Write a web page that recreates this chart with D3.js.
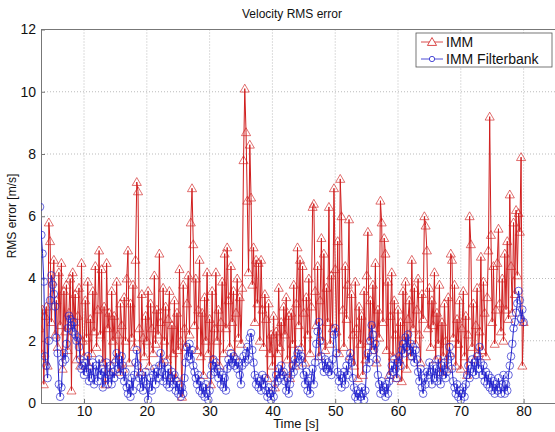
<!DOCTYPE html>
<html>
<head>
<meta charset="utf-8">
<script src="https://cdn.jsdelivr.net/npm/d3@7"></script>
<style>
  html, body { margin: 0; padding: 0; background: #fff; }
  svg text { font-family: "Liberation Sans", Arial, sans-serif; fill: #111; }
</style>
</head>
<body>
<svg id="chart" width="555" height="432"></svg>
<script>
// sample times start at 3 s, one sample every 0.2 s
const t0 = 3.0;
const dt = 0.2;

// IMM velocity RMS error [m/s], 5 samples per second from 3 s to 80 s
const imm = [
  2.4, 1.6, 3.0, 0.6, 2.8,  3.1, 1.2, 5.8, 5.2, 2.6,  3.9, 4.6, 2.2, 3.3, 1.8,
  4.2, 2.5, 4.5, 1.1, 3.6,  2.3, 3.8, 1.7, 2.9, 4.0,  0.4, 4.2, 2.6, 3.5, 1.4,
  2.8, 3.7, 1.2, 4.5, 2.0,  1.5, 3.3, 2.1, 3.9, 1.2,  2.7, 1.6, 3.6, 2.3, 4.4,
  1.8, 3.0, 4.9, 2.2, 4.3,  1.3, 3.1, 0.6, 4.5, 2.4,  2.9, 1.0, 3.6, 2.0, 2.8,
  1.4, 3.9, 2.2, 1.0, 3.2,  2.5, 1.1, 3.4, 2.0, 4.0,  4.9, 1.3, 3.2, 2.1, 3.8,
  1.8, 4.6, 7.1, 6.8, 2.4,  1.0, 3.5, 2.1, 1.5, 2.8,  2.0, 3.6, 1.2, 3.2, 2.4,
  1.6, 4.1, 1.9, 3.0, 2.2,  4.8, 2.6, 1.3, 3.7, 2.0,  3.1, 1.4, 2.7, 3.6, 0.9,
  2.5, 1.6, 3.3, 0.8, 2.9,  1.7, 4.3, 2.0, 0.2, 3.8,  2.4, 1.8, 3.2, 4.1, 2.2,
  5.8, 6.9, 5.1, 2.5, 4.0,  1.7, 3.0, 4.6, 1.5, 2.9,  0.9, 3.4, 2.0, 4.2, 1.6,
  2.7, 0.6, 3.6, 1.4, 2.4,  4.2, 2.0, 3.0, 1.2, 2.6,  3.9, 1.6, 4.8, 2.4, 5.0,
  3.3, 1.8, 4.4, 2.6, 3.6,  1.5, 2.9, 4.0, 2.1, 3.4,  1.9, 3.7, 7.8, 10.1, 8.7,
  6.5, 4.2, 8.3, 6.6, 3.8,  5.0, 2.6, 4.6, 3.2, 4.5,  2.0, 4.6, 3.0, 1.8, 3.5,
  2.7, 0.8, 3.2, 1.6, 2.2,  1.2, 2.8, 0.5, 2.3, 1.6,  3.7, 1.8, 2.6, 1.0, 3.1,
  2.2, 3.4, 1.4, 2.8, 0.8,  2.9, 1.9, 3.8, 1.2, 3.2,  5.0, 2.5, 4.6, 1.8, 4.4,
  2.9, 1.3, 3.4, 2.2, 4.0,  1.6, 3.1, 6.3, 6.4, 3.6,  2.5, 4.4, 1.5, 3.3, 5.3,
  2.0, 4.8, 1.7, 3.7, 2.6,  6.3, 1.9, 4.1, 2.4, 6.9,  4.3, 2.3, 5.2, 1.6, 7.2,
  6.0, 3.0, 1.8, 4.4, 2.7,  3.8, 5.9, 1.5, 3.5, 2.2,  1.2, 3.9, 2.4, 0.8, 3.1,
  1.9, 2.8, 0.9, 3.6, 1.4,  4.1, 5.5, 2.0, 3.3, 1.7,  3.8, 2.4, 4.5, 1.3, 3.0,
  2.1, 6.5, 5.8, 2.6, 5.3,  4.8, 1.7, 3.9, 0.9, 2.8,  4.2, 1.5, 3.3, 2.2, 0.8,
  3.0, 1.4, 2.6, 0.7, 3.6,  2.0, 3.9, 1.1, 2.7, 3.3,  1.5, 4.6, 2.4, 3.7, 1.9,
  3.0, 4.0, 2.2, 1.3, 3.5,  2.7, 6.0, 5.7, 4.9, 2.4,  3.7, 1.8, 3.3, 2.5, 4.2,
  1.4, 2.9, 1.9, 3.8, 1.0,  2.6, 1.5, 3.2, 2.0, 1.1,  3.4, 1.6, 4.8, 4.6, 2.1,
  3.8, 1.2, 2.7, 1.9, 3.3,  1.1, 2.4, 3.6, 1.5, 2.8,  0.9, 2.2, 6.0, 5.1, 1.8,
  3.2, 1.4, 2.5, 3.7, 1.6,  2.3, 4.7, 1.7, 3.9, 2.9,  1.5, 3.4, 4.9, 9.2, 5.4,
  2.6, 4.4, 1.9, 3.0, 4.5,  5.6, 3.2, 2.3, 4.0, 2.0,  4.8, 3.0, 5.2, 2.7, 6.7,
  4.4, 2.9, 5.8, 3.5, 6.2,  4.1, 6.1, 5.5, 7.9, 1.2,  2.6
];

// IMM Filterbank velocity RMS error [m/s], same sample times
const immFb = [
  6.3, 5.4, 4.8, 3.9, 1.5,  1.2, 0.8, 2.0, 3.3, 4.1,  3.8, 3.5, 3.1, 2.1, 1.6,
  0.6, 0.2, 0.5, 1.3, 1.6,  1.4, 1.9, 2.4, 2.8, 2.7,  2.5, 2.3, 2.6, 2.2, 2.0,
  2.1, 1.8, 1.4, 1.1, 1.2,  0.9, 1.3, 1.0, 1.5, 0.7,  1.1, 0.8, 1.3, 0.6, 1.0,
  1.2, 0.7, 1.4, 0.9, 1.1,  0.5, 1.0, 0.8, 1.3, 0.6,  0.9, 1.2, 0.6, 1.0, 0.8,
  1.3, 1.6, 1.1, 1.4, 0.9,  1.5, 1.2, 0.7, 1.0, 0.5,  0.3, 0.6, 0.2, 0.8, 0.4,
  0.9, 1.3, 1.7, 1.2, 0.8,  0.5, 0.9, 0.4, 0.7, 1.0,  0.6, 0.1, 0.5, 0.8, 0.4,
  0.9, 1.1, 0.6, 1.0, 0.8,  1.2, 1.6, 1.0, 0.7, 1.3,  0.9, 0.6, 1.1, 0.5, 0.8,
  1.0, 0.6, 0.9, 0.4, 0.7,  0.3, 0.6, 0.2, 0.5, 0.3,  0.8, 1.3, 1.8, 1.5, 1.9,
  1.4, 1.7, 1.2, 1.0, 0.8,  0.6, 0.9, 0.4, 0.7, 0.3,  0.5, 0.2, 0.6, 0.3, 0.1,
  0.4, 0.9, 1.2, 1.4, 1.0,  1.3, 1.1, 0.8, 1.0, 0.6,  0.9, 0.5, 0.8, 0.4, 1.1,
  1.4, 1.2, 1.6, 1.3, 1.5,  1.2, 1.4, 1.1, 1.3, 0.9,  0.6, 1.2, 1.5, 1.3, 1.6,
  1.8, 1.4, 2.1, 2.25, 1.7, 1.3, 0.9, 0.6, 0.8, 0.5,  0.7, 0.4, 0.9, 0.6, 0.8,
  0.4, 0.2, 0.5, 0.3, 0.1,  0.4, 0.2, 0.6, 0.9, 0.7,  1.1, 0.8, 1.2, 0.9, 1.0,
  0.7, 0.4, 0.8, 0.3, 0.6,  0.9, 1.2, 1.0, 1.4, 1.3,  1.6, 1.7, 1.4, 1.5, 1.2,
  0.9, 0.6, 1.0, 0.4, 0.7,  0.3, 0.8, 1.1, 0.6, 1.3,  1.9, 2.3, 2.6, 2.0, 1.5,
  1.2, 1.0, 1.4, 1.1, 1.3,  1.0, 1.2, 0.9, 1.4, 2.2,  2.4, 1.6, 1.0, 0.7, 0.9,
  0.5, 0.8, 1.0, 0.6, 1.2,  0.9, 1.4, 1.6, 1.3, 0.8,  0.5, 0.2, 0.4, 0.1, 0.3,
  0.2, 0.5, 0.3, 0.1, 0.4,  1.1, 1.6, 1.3, 2.0, 2.5,  2.2, 1.7, 1.9, 1.4, 0.9,
  0.6, 0.3, 0.7, 0.4, 0.5,  0.2, 0.6, 0.3, 0.7, 0.9,  1.2, 1.0, 1.4, 1.1, 0.8,
  1.3, 1.5, 1.2, 1.7, 1.9,  1.6, 2.1, 1.8, 2.2, 1.7,  1.9, 1.5, 1.8, 1.3, 1.7,
  1.4, 1.0, 0.7, 1.1, 0.5,  0.3, 0.8, 0.6, 1.0, 0.9,  1.3, 1.0, 0.6, 1.2, 0.8,
  1.1, 0.7, 1.4, 1.0, 0.6,  1.2, 0.9, 1.3, 0.8, 1.0,  1.4, 1.8, 1.5, 1.1, 0.7,
  0.5, 0.3, 0.6, 0.2, 0.4,  0.1, 0.3, 0.5, 0.2, 0.6,  0.9, 1.2, 0.8, 1.1, 1.4,
  1.0, 1.3, 0.9, 1.5, 1.1,  1.8, 1.3, 0.9, 1.2, 0.7,  1.0, 0.6, 0.9, 0.5, 0.8,
  0.4, 0.7, 0.3, 0.6, 0.4,  0.8, 0.5, 0.3, 0.6, 0.9,  0.3, 0.6, 0.4, 0.9, 1.2,
  1.5, 1.9, 2.4, 2.6, 2.9,  3.2, 3.6, 3.3, 2.7, 3.0,  2.6
];

const xTicks = [10, 20, 30, 40, 50, 60, 70, 80];
const yTicks = [0, 2, 4, 6, 8, 10, 12];
const seriesNames = ["IMM", "IMM Filterbank"];

const svg = d3.select("#chart");
const plotLeft = 41, plotRight = 555, plotTop = 29.5, plotBottom = 403;

const x = d3.scaleLinear().domain([3.15, 85]).range([plotLeft, plotRight]);
const y = d3.scaleLinear().domain([0, 12]).range([plotBottom, plotTop]);

// grid
const grid = svg.append("g").attr("stroke", "#aaa").attr("stroke-dasharray", "1,2").attr("stroke-width", 0.8);
grid.selectAll("line.gx").data(xTicks).enter().append("line")
  .attr("x1", d => x(d)).attr("x2", d => x(d))
  .attr("y1", plotTop).attr("y2", plotBottom);
grid.selectAll("line.gy").data(yTicks.filter(d => d > 0 && d < 12)).enter().append("line")
  .attr("x1", plotLeft).attr("x2", plotRight)
  .attr("y1", d => y(d)).attr("y2", d => y(d));

// axes (MATLAB-style inward ticks)
const xAxis = svg.append("g")
  .attr("transform", `translate(0,${plotBottom})`)
  .call(d3.axisBottom(x).tickValues(xTicks).tickSizeInner(-4).tickSizeOuter(0).tickPadding(3));
const yAxis = svg.append("g")
  .attr("transform", `translate(${plotLeft},0)`)
  .call(d3.axisLeft(y).tickValues(yTicks).tickSizeInner(-4).tickSizeOuter(0).tickPadding(5));
[xAxis, yAxis].forEach(a => {
  a.select(".domain").attr("stroke", "#777");
  a.selectAll(".tick line").attr("stroke", "#777");
  a.selectAll(".tick text").attr("font-size", 14).attr("font-family", "Liberation Sans, Arial, sans-serif").attr("fill", "#111");
});
svg.append("line").attr("x1", plotLeft).attr("x2", plotRight).attr("y1", plotTop).attr("y2", plotTop).attr("stroke", "#777");

// data
const timeOf = i => t0 + i * dt;
svg.append("clipPath").attr("id", "plotClip")
  .append("rect").attr("x", plotLeft).attr("y", plotTop - 8).attr("width", plotRight - plotLeft).attr("height", plotBottom - plotTop + 8);

const plot = svg.append("g").attr("clip-path", "url(#plotClip)");

const line = d3.line().x((d, i) => x(timeOf(i))).y(d => y(d));

const red = "#d01e1e", blue = "#2222cc";

plot.append("path").datum(imm)
  .attr("d", line).attr("fill", "none").attr("stroke", red).attr("stroke-width", 1);
const tri = d3.symbol().type(d3.symbolTriangle).size(36);
plot.selectAll("path.tri").data(imm).enter().append("path")
  .attr("class", "tri")
  .attr("d", tri)
  .attr("transform", (d, i) => `translate(${x(timeOf(i))},${y(d) + 0.8})`)
  .attr("fill", "none").attr("stroke", red).attr("stroke-width", 0.8).attr("stroke-opacity", 0.8);

plot.append("path").datum(immFb)
  .attr("d", line).attr("fill", "none").attr("stroke", blue).attr("stroke-width", 1);
plot.selectAll("circle.fb").data(immFb).enter().append("circle")
  .attr("class", "fb")
  .attr("cx", (d, i) => x(timeOf(i))).attr("cy", d => y(d)).attr("r", 3.8)
  .attr("fill", "none").attr("stroke", blue).attr("stroke-width", 0.8).attr("stroke-opacity", 0.85);

// labels
svg.append("text").attr("x", 292).attr("y", 18).attr("text-anchor", "middle").attr("font-size", 12).text("Velocity RMS error");
svg.append("text").attr("x", 296).attr("y", 428).attr("text-anchor", "middle").attr("font-size", 13).text("Time [s]");
svg.append("text").attr("transform", "translate(16,216) rotate(-90)").attr("text-anchor", "middle").attr("font-size", 12).text("RMS error [m/s]");

// legend
const legend = svg.append("g").attr("transform", "translate(416,33)");
legend.append("rect").attr("width", 136).attr("height", 34).attr("fill", "#fff").attr("stroke", "#555").attr("stroke-width", 0.8);
const lg = legend.selectAll("g.item").data(seriesNames).enter().append("g")
  .attr("transform", (d, i) => `translate(0,${9 + i * 17})`);
lg.append("line").attr("x1", 5).attr("x2", 27).attr("stroke", (d, i) => i ? blue : red).attr("stroke-width", 0.8);
lg.append("path")
  .attr("d", (d, i) => i ? d3.symbol().type(d3.symbolCircle).size(22)() : tri())
  .attr("transform", (d, i) => `translate(16,${i ? 0 : 0.8})`)
  .attr("fill", "#fff").attr("stroke", (d, i) => i ? blue : red).attr("stroke-width", 0.8);
lg.append("text").attr("x", 30).attr("y", 5).attr("font-size", 14).text(d => d);
</script>
</body>
</html>
